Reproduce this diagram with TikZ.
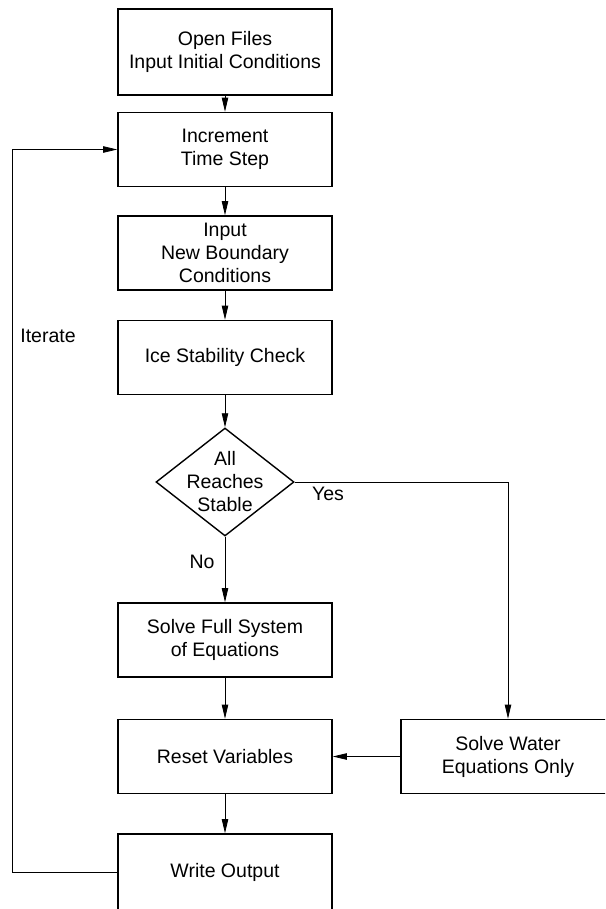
\documentclass[tikz,border=0pt]{standalone}
\usepackage{fontspec}
\setmainfont{Liberation Sans}
\usetikzlibrary{arrows.meta,shapes.geometric}

\begin{document}
\begin{tikzpicture}[x=0.5pt, y=-0.5pt, >={Triangle[length=7pt,width=3.2pt]},
    font=\fontsize{9.75}{11.5}\selectfont,
    procbox/.style={draw, line width=.8pt, align=center, inner sep=1pt, minimum width=107pt, minimum height=37pt},
    decide/.style={draw, line width=.7pt, shape=diamond, inner sep=0pt, minimum width=69pt, minimum height=54pt}]
    \useasboundingbox (0,0) rectangle (605,909);
    \clip (0,0) rectangle (605,909);
    \draw (225,52) node[procbox, minimum height=43pt] (open) {Open Files\\Input Initial Conditions};
    \draw (225,149.5) node[procbox] (incr) {Increment\\Time Step};
    \draw (225,253) node[procbox] (bound) {Input\\New Boundary\\Conditions};
    \draw (225,357.5) node[procbox] (ice) {Ice Stability Check};
    \draw (225,482) node[decide, label={[align=center]center:All\\Reaches\\Stable}] (stab) {};
    \draw (225,640) node[procbox] (full) {Solve Full System\\of Equations};
    \draw (225,756.5) node[procbox] (reset) {Reset Variables};
    \draw (225,872) node[procbox, minimum height=38pt] (wout) {Write Output};
    \draw (508,756.5) node[procbox] (water) {Solve Water\\Equations Only};
    \draw (48,336) node (iter) {Iterate};
    \draw (328,494) node (yes) {Yes};
    \draw (202,562) node (no) {No};
    \coordinate (loop) at (12,872);
    \draw [->] (open) -- (incr);
    \draw [->] (incr) -- (bound);
    \draw [->] (bound) -- (ice);
    \draw [->] (ice) -- (stab);
    \draw [->] (stab) -- (full);
    \draw [->] (full) -- (reset);
    \draw [->] (reset) -- (wout);
    \draw [->] (stab.east) -| (water.north);
    \draw [->] (water) -- (reset);
    \draw [->] (wout.west) -- (loop) |- (incr.west);
\end{tikzpicture}
\end{document}
